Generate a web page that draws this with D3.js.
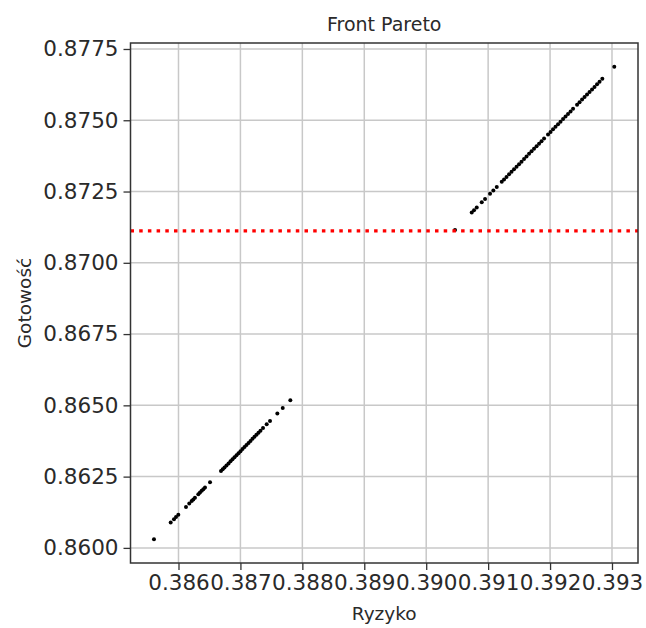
<!DOCTYPE html>
<html lang="pl">
<head>
<meta charset="utf-8">
<script src="https://d3js.org/d3.v7.min.js"></script>
<style>
body { margin: 0; background: #fff; }
svg text { font-family: "DejaVu Sans", sans-serif; fill: #2a2a2a; }
.grid line { stroke: #c8c8c8; stroke-width: 1.5; }
.axis path { display: none; }
.axis line { stroke: #333; stroke-width: 1.3; }
</style>
</head>
<body>
<svg id="chart" width="646" height="628"></svg>
<script>
// lower group of the Pareto front
var riskLow = [0.385604, 0.385874, 0.385927, 0.385960, 0.385997, 0.386121, 0.386174, 0.386213, 0.386239, 0.386266,
  0.386320, 0.386347, 0.386375, 0.386401, 0.386428, 0.386509, 0.386686, 0.386714, 0.386743, 0.386775,
  0.386808, 0.386840, 0.386872, 0.386904, 0.386937, 0.386969, 0.387001, 0.387034, 0.387066, 0.387098,
  0.387131, 0.387163, 0.387195, 0.387227, 0.387260, 0.387292, 0.387324, 0.387365, 0.387424, 0.387478,
  0.387596, 0.387683, 0.387806];
var readyLow = [0.860306, 0.860889, 0.861007, 0.861080, 0.861162, 0.861438, 0.861556, 0.861642, 0.861700, 0.861760,
  0.861880, 0.861940, 0.862002, 0.862060, 0.862120, 0.862300, 0.862693, 0.862755, 0.862820, 0.862891,
  0.862964, 0.863035, 0.863106, 0.863177, 0.863251, 0.863322, 0.863393, 0.863466, 0.863537, 0.863608,
  0.863682, 0.863753, 0.863824, 0.863895, 0.863968, 0.864039, 0.864111, 0.864202, 0.864333, 0.864453,
  0.864715, 0.864908, 0.865181];

// upper group
var riskHigh = [0.390465, 0.390735, 0.390772, 0.390816, 0.390897, 0.390950, 0.391031, 0.391084, 0.391139, 0.391220,
  0.391257, 0.391297, 0.391338, 0.391378, 0.391418, 0.391459, 0.391499, 0.391539, 0.391580, 0.391620,
  0.391661, 0.391701, 0.391741, 0.391782, 0.391822, 0.391862, 0.391903, 0.391967, 0.392008, 0.392048,
  0.392088, 0.392129, 0.392169, 0.392210, 0.392250, 0.392290, 0.392331, 0.392371, 0.392436, 0.392476,
  0.392517, 0.392557, 0.392597, 0.392638, 0.392678, 0.392718, 0.392759, 0.392799, 0.392844, 0.393037];
var readyHigh = [0.871153, 0.871761, 0.871844, 0.871941, 0.872122, 0.872239, 0.872420, 0.872537, 0.872660, 0.872840,
  0.872922, 0.873011, 0.873102, 0.873191, 0.873280, 0.873371, 0.873460, 0.873549, 0.873641, 0.873729,
  0.873821, 0.873910, 0.873999, 0.874090, 0.874179, 0.874268, 0.874359, 0.874501, 0.874592, 0.874681,
  0.874770, 0.874861, 0.874950, 0.875042, 0.875131, 0.875220, 0.875311, 0.875400, 0.875544, 0.875633,
  0.875724, 0.875813, 0.875902, 0.875993, 0.876082, 0.876171, 0.876263, 0.876352, 0.876452, 0.876879];

var threshold = 0.87112;
var xTicks = [0.386, 0.387, 0.388, 0.389, 0.390, 0.391, 0.392, 0.393];
var yTicks = [0.8600, 0.8625, 0.8650, 0.8675, 0.8700, 0.8725, 0.8750, 0.8775];

var margin = {top: 43, right: 8, bottom: 65, left: 130.5},
    width = 646 - margin.left - margin.right,
    height = 628 - margin.top - margin.bottom;

var svg = d3.select("#chart");
var g = svg.append("g")
    .attr("transform", "translate(" + margin.left + "," + margin.top + ")");

var x = d3.scaleLinear().domain([0.385225, 0.393420]).range([0, width]);
var y = d3.scaleLinear().domain([0.85947, 0.87771]).range([height, 0]);

// grid
g.append("g").attr("class", "grid")
  .selectAll("line").data(xTicks).enter().append("line")
  .attr("x1", d => x(d)).attr("x2", d => x(d))
  .attr("y1", 0).attr("y2", height);
g.append("g").attr("class", "grid")
  .selectAll("line").data(yTicks).enter().append("line")
  .attr("x1", 0).attr("x2", width)
  .attr("y1", d => y(d)).attr("y2", d => y(d));

// axes
var xAxis = d3.axisBottom(x).tickValues(xTicks).tickFormat(d3.format(".3f")).tickSize(7).tickPadding(5);
var yAxis = d3.axisLeft(y).tickValues(yTicks).tickFormat(d3.format(".4f")).tickSize(7).tickPadding(5);

g.append("g").attr("class", "axis")
  .attr("transform", "translate(0," + height + ")")
  .call(xAxis)
  .selectAll("text").style("font-size", "21.5px").attr("fill", "#2a2a2a");
g.append("g").attr("class", "axis")
  .call(yAxis)
  .selectAll("text").style("font-size", "21.5px").attr("fill", "#2a2a2a");

// points
var pts = riskLow.map((r, i) => [r, readyLow[i]])
  .concat(riskHigh.map((r, i) => [r, readyHigh[i]]));
g.selectAll("circle.pt").data(pts).enter().append("circle")
  .attr("class", "pt")
  .attr("cx", d => x(d[0]))
  .attr("cy", d => y(d[1]))
  .attr("r", 2)
  .attr("fill", "#000");

// threshold line
g.append("line")
  .attr("x1", 0).attr("x2", width)
  .attr("y1", y(threshold)).attr("y2", y(threshold))
  .attr("stroke", "#f00")
  .attr("stroke-width", 3.2)
  .attr("stroke-dasharray", "3.5,5.2");

// frame
g.append("rect")
  .attr("width", width).attr("height", height)
  .attr("fill", "none").attr("stroke", "#333").attr("stroke-width", 1.5);

// labels
svg.append("text")
  .attr("x", margin.left + width / 2).attr("y", 31)
  .attr("text-anchor", "middle").style("font-size", "19px")
  .text("Front Pareto");
svg.append("text")
  .attr("x", margin.left + width / 2).attr("y", 620)
  .attr("text-anchor", "middle").style("font-size", "18.5px")
  .text("Ryzyko");
svg.append("text")
  .attr("transform", "translate(31," + (margin.top + height / 2) + ") rotate(-90)")
  .attr("text-anchor", "middle").style("font-size", "18.5px")
  .text("Gotowość");
</script>
</body>
</html>
